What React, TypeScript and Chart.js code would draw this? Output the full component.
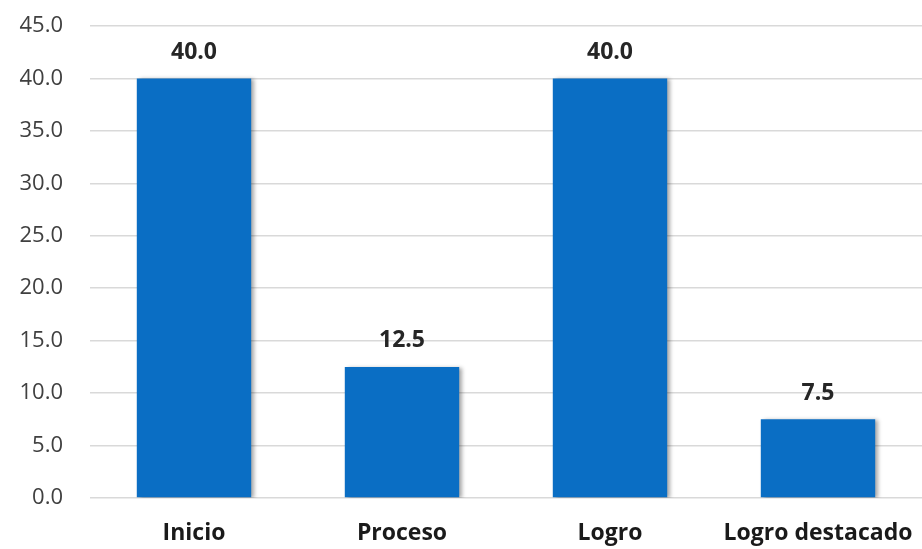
import React, { useEffect, useRef } from "react";
import { Chart, registerables } from "chart.js";

Chart.register(...registerables);

const categories = ["Inicio", "Proceso", "Logro", "Logro destacado"];
const values = [40.0, 12.5, 40.0, 7.5];
const yTicks = [0, 5, 10, 15, 20, 25, 30, 35, 40, 45];

const barShadow = {
  id: "barShadow",
  beforeDatasetsDraw(chart: any) {
    const ctx = chart.ctx;
    ctx.save();
    ctx.shadowColor = "rgba(0,0,0,0.35)";
    ctx.shadowOffsetX = 3;
    ctx.shadowOffsetY = 1;
    ctx.shadowBlur = 4;
  },
  afterDatasetsDraw(chart: any) {
    chart.ctx.restore();
  },
};

const valueLabels = {
  id: "valueLabels",
  afterDraw(chart: any) {
    const ctx = chart.ctx;
    const meta = chart.getDatasetMeta(0);
    ctx.save();
    ctx.font = "bold 23px 'Open Sans', sans-serif";
    ctx.fillStyle = "#262626";
    ctx.textAlign = "center";
    ctx.textBaseline = "middle";
    meta.data.forEach((el: any, i: number) => {
      ctx.fillText(values[i].toFixed(1), el.x, el.y - 26);
    });
    ctx.restore();
  },
};

export default function App() {
  const ref = useRef<HTMLCanvasElement>(null);
  useEffect(() => {
    document.body.style.margin = "0";
    const chart = new Chart(ref.current!, {
      type: "bar",
      data: {
        labels: categories,
        datasets: [
          {
            data: values,
            backgroundColor: "#0A6EC4",
            barPercentage: 0.55,
            categoryPercentage: 1,
          },
        ],
      },
      options: {
        animation: false,
        responsive: false,
        layout: { padding: { top: 26, right: 0, left: 0, bottom: 0 } },
        plugins: { legend: { display: false }, tooltip: { enabled: false } },
        scales: {
          x: {
            grid: { display: false },
            border: { display: false },
            ticks: {
              color: "#1a1a1a",
              font: { family: "'Open Sans', sans-serif", size: 23, weight: "bold" },
              padding: 14,
              maxRotation: 0,
              autoSkip: false,
            },
            afterFit(scale: any) {
              scale.height = 51;
              scale.paddingLeft = 0;
              scale.paddingRight = 0;
            },
          },
          y: {
            min: 0,
            max: 45,
            afterBuildTicks(scale: any) {
              scale.ticks = yTicks.map((v) => ({ value: v }));
            },
            grid: { color: "#d9d9d9", lineWidth: 1.5, drawTicks: false },
            border: { display: false },
            ticks: {
              color: "#404040",
              font: { family: "'Open Sans', sans-serif", size: 22 },
              padding: 27,
              callback: (v: any) => Number(v).toFixed(1),
            },
            afterFit(scale: any) {
              scale.width = 90;
              scale.paddingTop = 0;
              scale.paddingBottom = 0;
            },
          },
        },
      },
      plugins: [barShadow, valueLabels],
    });
    return () => chart.destroy();
  }, []);
  return (
    <div style={{ position: "relative", width: 922, height: 549, background: "#fff" }}>
      <canvas ref={ref} width={922} height={549} />
    </div>
  );
}
